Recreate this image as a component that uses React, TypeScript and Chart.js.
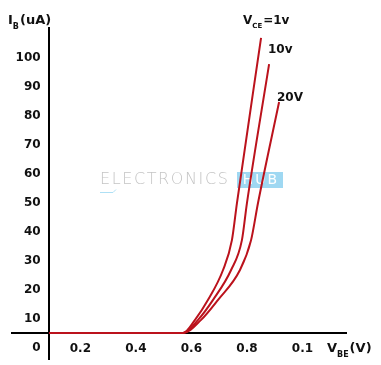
import React, { useEffect, useRef } from "react";
import { Chart, registerables } from "chart.js";

Chart.register(...registerables);

// ---- data ----
const xTickValues = [0.2, 0.4, 0.6, 0.8, 1.0];
const xTickLabels = ["0.2", "0.4", "0.6", "0.8", "0.1"];
const yTickValues = [0, 10, 20, 30, 40, 50, 60, 70, 80, 90, 100];

// V_CE = 1v
const vce1V = [0.087, 0.570, 0.613, 0.660, 0.714, 0.746, 0.764, 0.851];
const vce1I = [5.2, 5.2, 9.7, 16.6, 26.9, 37.2, 49.9, 106.9];
// V_CE = 10v
const vce10V = [0.087, 0.570, 0.624, 0.678, 0.743, 0.782, 0.800, 0.880];
const vce10I = [5.2, 5.2, 9.7, 16.6, 26.9, 37.2, 49.9, 97.9];
// V_CE = 20V
const vce20V = [0.087, 0.570, 0.635, 0.696, 0.775, 0.815, 0.840, 0.916];
const vce20I = [5.2, 5.2, 9.7, 16.6, 26.9, 37.2, 50.0, 84.8];

const seriesNames = ["VCE=1v", "10v", "20V"];

const zip = (xs: number[], ys: number[]) => xs.map((x, i) => ({ x, y: ys[i] }));

const FONT = '"DejaVu Sans", Verdana, sans-serif';
const CURVE = "#bb121c";

function drawSubText(
  ctx: CanvasRenderingContext2D,
  x: number,
  y: number,
  main: string,
  sub: string,
  rest: string,
  size: number
) {
  ctx.save();
  ctx.fillStyle = "#111";
  ctx.textBaseline = "middle";
  ctx.textAlign = "left";
  ctx.font = `bold ${size}px ${FONT}`;
  ctx.fillText(main, x, y);
  let cx = x + ctx.measureText(main).width;
  ctx.font = `bold ${Math.round(size * 0.6)}px ${FONT}`;
  ctx.fillText(sub, cx, y + size * 0.42);
  cx += ctx.measureText(sub).width + 1;
  ctx.font = `bold ${size}px ${FONT}`;
  ctx.fillText(rest, cx, y);
  ctx.restore();
}

const watermarkPlugin = {
  id: "watermark",
  beforeDatasetsDraw(chart: any) {
    const ctx = chart.ctx as CanvasRenderingContext2D;
    ctx.save();
    ctx.font = `200 16px ${FONT}`;
    (ctx as any).letterSpacing = "1.6px";
    ctx.fillStyle = "#c4c4c4";
    ctx.textBaseline = "middle";
    ctx.textAlign = "left";
    ctx.fillText("ELECTRONICS", 100, 180);
    ctx.fillStyle = "#9fd8f2";
    ctx.fillRect(237, 172, 46, 16);
    ctx.fillStyle = "#ffffff";
    (ctx as any).letterSpacing = "2px";
    ctx.font = `14px ${FONT}`;
    ctx.textAlign = "center";
    ctx.fillText("HUB", 261, 180.5);
    ctx.strokeStyle = "#aee0f5";
    ctx.lineWidth = 1;
    ctx.beginPath();
    ctx.moveTo(100, 192.5);
    ctx.lineTo(113, 192.5);
    ctx.lineTo(116, 189.5);
    ctx.stroke();
    ctx.restore();
  },
};

const labelsPlugin = {
  id: "labels",
  afterDraw(chart: any) {
    const ctx = chart.ctx as CanvasRenderingContext2D;
    drawSubText(ctx, 8, 21, "I", "B", "(uA)", 13);
    drawSubText(ctx, 243, 21, "V", "CE", "=1v", 12);
    drawSubText(ctx, 327, 349, "V", "BE", "(V)", 13);
    ctx.save();
    ctx.fillStyle = "#111";
    ctx.font = `bold 12px ${FONT}`;
    ctx.textBaseline = "middle";
    ctx.fillText(seriesNames[1], 268, 50);
    ctx.fillText(seriesNames[2], 277, 98);
    ctx.restore();
  },
};

const noPad = (s: any) => {
  s.paddingTop = 0;
  s.paddingBottom = 0;
  s.paddingLeft = 0;
  s.paddingRight = 0;
};

export default function App() {
  const ref = useRef<HTMLCanvasElement | null>(null);
  useEffect(() => {
    if (!ref.current) return;
    const mk = (label: string, xs: number[], ys: number[]) => ({
      label,
      data: zip(xs, ys),
      borderColor: CURVE,
      borderWidth: 2,
      pointRadius: 0,
      fill: false,
      cubicInterpolationMode: "monotone" as const,
    });
    const chart = new Chart(ref.current, {
      type: "line",
      data: {
        datasets: [
          mk(seriesNames[0], vce1V, vce1I),
          mk(seriesNames[1], vce10V, vce10I),
          mk(seriesNames[2], vce20V, vce20I),
        ],
      },
      options: {
        animation: false,
        responsive: false,
        devicePixelRatio: 1,
        layout: { padding: { left: 12, right: 35, top: 28, bottom: 6 } },
        plugins: { legend: { display: false }, tooltip: { enabled: false } },
        scales: {
          x: {
            type: "linear",
            min: -0.0465,
            max: 1.1571,
            position: { y: 5.17 } as any,
            grid: { display: false, drawTicks: false },
            border: { display: true, color: "#000", width: 2 },
            afterFit: noPad,
            afterBuildTicks: (s: any) => {
              s.ticks = xTickValues.map((v) => ({ value: v }));
            },
            ticks: {
              padding: 9,
              color: "#111",
              font: { family: FONT, size: 12, weight: "bold" },
              callback: (v: any) => {
                const i = xTickValues.findIndex((t) => Math.abs(t - v) < 1e-6);
                return i >= 0 ? xTickLabels[i] : "";
              },
            },
          },
          y: {
            type: "linear",
            min: -3.79,
            max: 110.34,
            position: { x: 0.0868 } as any,
            grid: { display: false, drawTicks: false },
            border: { display: true, color: "#000", width: 2 },
            afterFit: noPad,
            afterBuildTicks: (s: any) => {
              s.ticks = yTickValues.map((v) => ({ value: v }));
            },
            ticks: {
              color: "#111",
              font: { family: FONT, size: 12, weight: "bold" },
              // two trailing spaces keep the labels clear of the axis line
              callback: (v: any) => String(v) + "  ",
            },
          },
        },
      },
      plugins: [watermarkPlugin, labelsPlugin],
    });
    return () => chart.destroy();
  }, []);
  return (
    <div style={{ position: "absolute", left: 0, top: 0, width: 381, height: 365, background: "#fff" }}>
      <canvas ref={ref} width={381} height={365} style={{ display: "block" }} />
    </div>
  );
}
